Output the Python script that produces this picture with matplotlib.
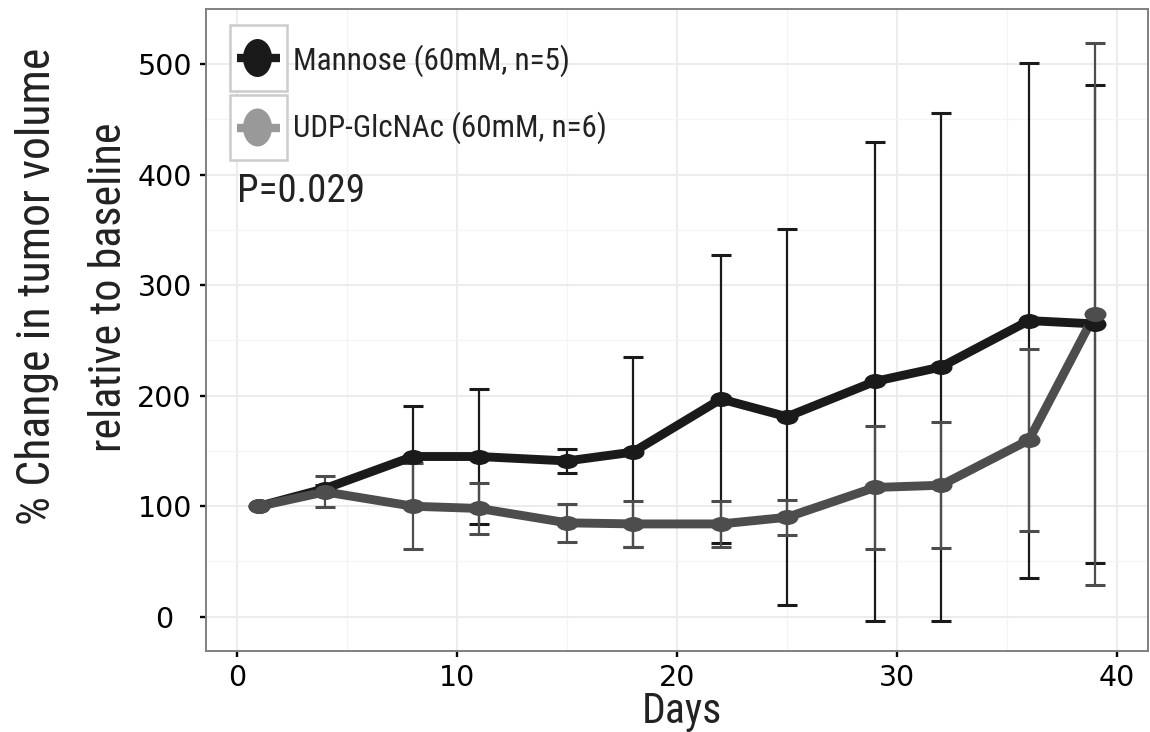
import os
import numpy as np
import matplotlib
matplotlib.use("Agg")
import matplotlib.pyplot as plt
from matplotlib import font_manager as fm
from matplotlib.path import Path
from matplotlib.transforms import Affine2D
from matplotlib.patches import Rectangle, Ellipse
from matplotlib.lines import Line2D

# ---------------- data ----------------
days = [1, 4, 8, 11, 15, 18, 22, 25, 29, 32, 36, 39]
mannose = [100, 116, 145, 145, 141, 149, 197, 181, 213, 226, 268, 265]
mannose_err = [0, 3, 46, 61, 11, 86, 130, 170, 217, 230, 233, 216]
udp = [100, 113, 100, 98, 85, 84, 84, 90, 117, 119, 160, 274]
udp_err = [0, 14, 39, 23, 17, 21, 21, 16, 56, 57, 82, 245]

series_labels = ["Mannose (60mM, n=5)", "UDP-GlcNAc (60mM, n=6)"]
x_ticks = [0, 10, 20, 30, 40]
y_ticks = [0, 100, 200, 300, 400, 500]
p_text = "P=0.029"
x_title = "Days"
y_title_lines = ["% Change in tumor volume", "relative to baseline"]

# ---------------- fonts ----------------
def pick_font():
    prefs = ["notosans-condensed.ttf", "notosans-condensedregular.ttf",
             "liberationsansnarrow-regular.ttf", "robotocondensed-regular.ttf",
             "opensans-condensed", "notosans-semicondensed.ttf"]
    files = {os.path.basename(f.fname).lower(): f.fname for f in fm.fontManager.ttflist}
    for p in prefs:
        for k, v in files.items():
            if k.startswith(p.replace(".ttf", "")) and k.endswith(".ttf") and "italic" not in k and "bold" not in k:
                if k == p or p.endswith("condensed"):
                    return fm.FontProperties(fname=v)
    return fm.FontProperties(family="Lato")

title_fp = pick_font()
tick_font = "DejaVu Sans"

W, H = 1150, 732
fig = plt.figure(figsize=(W / 100, H / 100), dpi=100)
fig.patch.set_facecolor("white")

def fx(px):
    return px / W

def fy(py):
    return 1 - py / H

ax = fig.add_axes([fx(206), fy(651), fx(1148) - fx(206), fy(9) - fy(651)])
ax.set_xlim(-1.41, 41.41)
ax.set_ylim(-31, 548.5)

black = "#1a1a1a"
grey = "#4d4d4d"
legend_grey = "#999999"

# elliptical marker (wider than tall)
ell = Path.unit_circle().transformed(Affine2D().scale(1.0, 15 / 22))
ms = 22 * 0.72

# error bars
ax.errorbar(days, mannose, yerr=mannose_err, fmt="none", ecolor=black,
            elinewidth=1.6, capsize=7.5, capthick=2.2, zorder=2.0)
ax.errorbar(days, udp, yerr=udp_err, fmt="none", ecolor=grey,
            elinewidth=1.6, capsize=7.5, capthick=2.2, zorder=2.1)
# lines
ax.plot(days, mannose, color=black, lw=6.4, solid_capstyle="butt", zorder=3.0)
ax.plot(days, udp, color=grey, lw=6.4, solid_capstyle="butt", zorder=3.1)
# points
ax.plot(days, mannose, ls="none", marker=ell, ms=ms, mfc=black, mec="none", zorder=4.0)
ax.plot(days, udp, ls="none", marker=ell, ms=ms, mfc=grey, mec="none", zorder=4.1)

# grid
ax.set_xticks(x_ticks)
ax.set_yticks(y_ticks)
ax.set_xticks([5, 15, 25, 35], minor=True)
ax.set_yticks([50, 150, 250, 350, 450, 550], minor=True)
ax.grid(which="major", color="#ebebeb", lw=1.3, zorder=0)
ax.grid(which="minor", color="#f4f4f4", lw=0.9, zorder=0)
ax.set_axisbelow(True)

for s in ax.spines.values():
    s.set_color("#808080")
    s.set_linewidth(1.4)

ax.tick_params(which="minor", length=0)
ax.tick_params(which="major", length=4.3, width=1.7, color="black",
               labelsize=20.5, labelcolor="black")
ax.tick_params(axis="x", pad=5)
ax.tick_params(axis="y", pad=25.5)
ax.set_xticklabels([str(v) for v in x_ticks], family=tick_font)
ax.set_yticklabels([str(v) for v in y_ticks], family=tick_font, ha="center")

# ---------------- texts ----------------
texts = []
t_days = fig.text(fx(682), fy(723), x_title, fontproperties=title_fp, fontsize=30,
                  ha="center", va="baseline", color="#222222")
texts.append((t_days, 80, False))
t_y1 = fig.text(fx(50), fy(286.5), y_title_lines[0], fontproperties=title_fp, fontsize=36,
                rotation=90, rotation_mode="anchor", ha="center", va="baseline", color="#222222")
texts.append((t_y1, 477, True))
t_y2 = fig.text(fx(121), fy(287), y_title_lines[1], fontproperties=title_fp, fontsize=36,
                rotation=90, rotation_mode="anchor", ha="center", va="baseline", color="#222222")
texts.append((t_y2, 330, True))

t_l1 = fig.text(fx(293), fy(70), series_labels[0], fontproperties=title_fp, fontsize=26,
                ha="left", va="baseline", color="#222222")
texts.append((t_l1, 277, False))
t_l2 = fig.text(fx(293), fy(137), series_labels[1], fontproperties=title_fp, fontsize=26,
                ha="left", va="baseline", color="#222222")
texts.append((t_l2, 314, False))
t_p = fig.text(fx(237), fy(202), p_text, fontproperties=title_fp, fontsize=26,
               ha="left", va="baseline", color="#222222")
texts.append((t_p, 128, False))

fig.canvas.draw()
renderer = fig.canvas.get_renderer()
for _ in range(2):
    for t, target, rot in texts:
        bb = t.get_window_extent(renderer)
        w = bb.height if rot else bb.width
        t.set_fontsize(t.get_fontsize() * target / w)

# ---------------- legend (manual keys) ----------------
for (y0, y1, col, lab) in [(25, 91, black, 0), (95, 160, legend_grey, 1)]:
    fig.add_artist(Rectangle((fx(230), fy(y1)), fx(287) - fx(230), fy(y0) - fy(y1),
                             transform=fig.transFigure, facecolor="white",
                             edgecolor="#cccccc", lw=1.8, zorder=5))
    yc = (y0 + y1) / 2
    fig.add_artist(Line2D([fx(237), fx(280)], [fy(yc), fy(yc)], transform=fig.transFigure,
                          color=col, lw=6, solid_capstyle="butt", zorder=6))
    fig.add_artist(Ellipse((fx(257.5), fy(yc)), 29 / W, 38 / H, transform=fig.transFigure,
                           facecolor=col, edgecolor="none", zorder=7))

fig.savefig("out.png", dpi=100, facecolor="white")
